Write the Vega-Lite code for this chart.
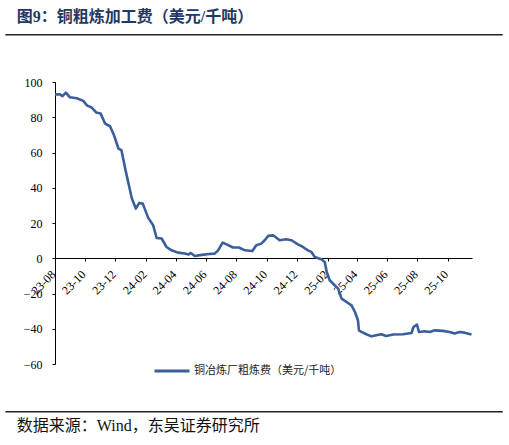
{
  "$schema": "https://vega.github.io/schema/vega-lite/v6.json",
  "width": 417,
  "height": 282,
  "autosize": {"type": "none"},
  "padding": {"left": 55, "top": 82, "right": 37, "bottom": 81},
  "background": "white",
  "config": {
    "view": {"stroke": null},
    "axis": {
      "title": null,
      "grid": false,
      "labelFont": "Liberation Serif",
      "labelFontSize": 12,
      "labelColor": "#000000",
      "domainColor": "#000000",
      "tickColor": "#000000",
      "tickSize": 3,
      "labelOverlap": false
    }
  },
  "resolve": {"scale": {"x": "independent", "y": "independent"}},
  "datasets": {
    "tc": [
      {"date": "2023-08-01", "tc": 92.9},
      {"date": "2023-08-11", "tc": 93.0},
      {"date": "2023-08-16", "tc": 92.0},
      {"date": "2023-08-23", "tc": 94.0},
      {"date": "2023-08-31", "tc": 91.3},
      {"date": "2023-09-14", "tc": 90.8},
      {"date": "2023-09-27", "tc": 89.3},
      {"date": "2023-10-05", "tc": 86.6},
      {"date": "2023-10-14", "tc": 85.5},
      {"date": "2023-10-23", "tc": 82.7},
      {"date": "2023-11-01", "tc": 82.1},
      {"date": "2023-11-10", "tc": 76.4},
      {"date": "2023-11-20", "tc": 74.9},
      {"date": "2023-11-28", "tc": 69.8},
      {"date": "2023-12-07", "tc": 62.2},
      {"date": "2023-12-13", "tc": 61.3},
      {"date": "2023-12-22", "tc": 49.0},
      {"date": "2024-01-03", "tc": 33.9},
      {"date": "2024-01-11", "tc": 28.2},
      {"date": "2024-01-18", "tc": 31.4},
      {"date": "2024-01-25", "tc": 31.0},
      {"date": "2024-02-05", "tc": 22.9},
      {"date": "2024-02-15", "tc": 18.7},
      {"date": "2024-02-22", "tc": 11.5},
      {"date": "2024-03-03", "tc": 11.2},
      {"date": "2024-03-13", "tc": 6.4},
      {"date": "2024-03-23", "tc": 4.5},
      {"date": "2024-04-05", "tc": 3.2},
      {"date": "2024-04-19", "tc": 2.7},
      {"date": "2024-04-26", "tc": 2.1},
      {"date": "2024-05-01", "tc": 3.0},
      {"date": "2024-05-09", "tc": 1.3},
      {"date": "2024-05-23", "tc": 1.9},
      {"date": "2024-06-07", "tc": 2.4},
      {"date": "2024-06-18", "tc": 2.6},
      {"date": "2024-06-25", "tc": 4.5},
      {"date": "2024-07-04", "tc": 8.9},
      {"date": "2024-07-12", "tc": 7.9},
      {"date": "2024-07-25", "tc": 6.1},
      {"date": "2024-08-06", "tc": 6.1},
      {"date": "2024-08-18", "tc": 4.5},
      {"date": "2024-09-02", "tc": 4.1},
      {"date": "2024-09-10", "tc": 7.4},
      {"date": "2024-09-20", "tc": 8.3},
      {"date": "2024-09-27", "tc": 10.2},
      {"date": "2024-10-04", "tc": 12.7},
      {"date": "2024-10-14", "tc": 13.0},
      {"date": "2024-10-27", "tc": 10.2},
      {"date": "2024-11-09", "tc": 10.8},
      {"date": "2024-11-20", "tc": 10.2},
      {"date": "2024-12-03", "tc": 7.9},
      {"date": "2024-12-13", "tc": 6.4},
      {"date": "2024-12-23", "tc": 4.5},
      {"date": "2024-12-30", "tc": 3.6},
      {"date": "2025-01-06", "tc": 0.7},
      {"date": "2025-01-19", "tc": -0.6},
      {"date": "2025-01-26", "tc": -2.1},
      {"date": "2025-01-30", "tc": -7.8},
      {"date": "2025-02-05", "tc": -12.5},
      {"date": "2025-02-15", "tc": -15.3},
      {"date": "2025-02-22", "tc": -17.2},
      {"date": "2025-03-01", "tc": -22.9},
      {"date": "2025-03-11", "tc": -24.8},
      {"date": "2025-03-21", "tc": -26.7},
      {"date": "2025-03-28", "tc": -30.5},
      {"date": "2025-04-03", "tc": -35.2},
      {"date": "2025-04-05", "tc": -40.9},
      {"date": "2025-04-10", "tc": -41.8},
      {"date": "2025-04-20", "tc": -43.1},
      {"date": "2025-04-30", "tc": -44.3},
      {"date": "2025-05-10", "tc": -43.7},
      {"date": "2025-05-20", "tc": -43.1},
      {"date": "2025-05-30", "tc": -44.1},
      {"date": "2025-06-13", "tc": -43.3},
      {"date": "2025-07-03", "tc": -43.1},
      {"date": "2025-07-20", "tc": -42.4},
      {"date": "2025-07-24", "tc": -39.0},
      {"date": "2025-07-31", "tc": -37.6},
      {"date": "2025-08-04", "tc": -41.8},
      {"date": "2025-08-16", "tc": -41.4},
      {"date": "2025-08-26", "tc": -41.8},
      {"date": "2025-09-05", "tc": -40.9},
      {"date": "2025-09-21", "tc": -41.2},
      {"date": "2025-10-05", "tc": -41.8},
      {"date": "2025-10-15", "tc": -42.7},
      {"date": "2025-10-25", "tc": -41.8},
      {"date": "2025-11-04", "tc": -42.2},
      {"date": "2025-11-18", "tc": -43.3}
    ],
    "one": [{}]
  },
  "layer": [
    {
      "data": {"name": "tc"},
      "mark": {"type": "line", "strokeWidth": 2.6, "strokeJoin": "round"},
      "encoding": {
        "x": {
          "field": "date",
          "type": "temporal",
          "scale": {
            "type": "utc",
            "domain": [
              {"year": 2023, "month": 8, "date": 1, "utc": true},
              {"year": 2025, "month": 11, "date": 19, "utc": true}
            ]
          },
          "axis": {
            "offset": -106,
            "labelExpr": "utcFormat(datum.value, '%y-%m')",
            "values": [
              {"year": 2023, "month": 8, "date": 1, "utc": true},
              {"year": 2023, "month": 10, "date": 1, "utc": true},
              {"year": 2023, "month": 12, "date": 1, "utc": true},
              {"year": 2024, "month": 2, "date": 1, "utc": true},
              {"year": 2024, "month": 4, "date": 1, "utc": true},
              {"year": 2024, "month": 6, "date": 1, "utc": true},
              {"year": 2024, "month": 8, "date": 1, "utc": true},
              {"year": 2024, "month": 10, "date": 1, "utc": true},
              {"year": 2024, "month": 12, "date": 1, "utc": true},
              {"year": 2025, "month": 2, "date": 1, "utc": true},
              {"year": 2025, "month": 4, "date": 1, "utc": true},
              {"year": 2025, "month": 6, "date": 1, "utc": true},
              {"year": 2025, "month": 8, "date": 1, "utc": true},
              {"year": 2025, "month": 10, "date": 1, "utc": true}
            ],
            "labelAngle": -45,
            "labelAlign": "right",
            "labelBaseline": "middle",
            "labelPadding": 11,
            "labelOffset": -2,
            "labelFlush": false,
            "labelBound": false
          }
        },
        "y": {
          "field": "tc",
          "type": "quantitative",
          "scale": {"domain": [-60, 100], "nice": false, "zero": false},
          "axis": {
            "values": [-60, -40, -20, 0, 20, 40, 60, 80, 100],
            "labelPadding": 10
          }
        },
        "color": {
          "datum": "铜冶炼厂粗炼费（美元/千吨）",
          "scale": {"range": ["#3A5F9A"]},
          "legend": {
            "title": null,
            "orient": "none",
            "legendX": 98,
            "legendY": 270,
            "padding": 0,
            "symbolType": "stroke",
            "symbolSize": 1225,
            "symbolStrokeWidth": 3,
            "labelFont": "Noto Sans CJK SC",
            "labelFontSize": 11,
            "labelColor": "#222222",
            "labelOffset": 3
          }
        }
      }
    },
    {
      "data": {"name": "one"},
      "mark": {"type": "rule", "color": "#222222", "strokeWidth": 1.5, "clip": false},
      "encoding": {
        "x": {
          "datum": {"year": 2023, "month": 4, "date": 23, "utc": true},
          "type": "temporal",
          "axis": null,
          "scale": {"type": "utc", "domain": [{"year": 2023, "month": 8, "date": 1, "utc": true}, {"year": 2025, "month": 11, "date": 19, "utc": true}]}
        },
        "x2": {"datum": {"year": 2026, "month": 1, "date": 20, "utc": true}},
        "y": {"datum": 126.8, "type": "quantitative", "axis": null, "scale": {"domain": [-60, 100], "nice": false, "zero": false}}
      }
    },
    {
      "data": {"name": "one"},
      "mark": {"type": "rule", "color": "#222222", "strokeWidth": 1.5, "clip": false},
      "encoding": {
        "x": {
          "datum": {"year": 2023, "month": 4, "date": 23, "utc": true},
          "type": "temporal",
          "axis": null,
          "scale": {"type": "utc", "domain": [{"year": 2023, "month": 8, "date": 1, "utc": true}, {"year": 2025, "month": 11, "date": 19, "utc": true}]}
        },
        "x2": {"datum": {"year": 2026, "month": 1, "date": 20, "utc": true}},
        "y": {"datum": -87.1, "type": "quantitative", "axis": null, "scale": {"domain": [-60, 100], "nice": false, "zero": false}}
      }
    },
    {
      "data": {"name": "one"},
      "mark": {
        "type": "text",
        "text": "图9：铜粗炼加工费（美元/千吨）",
        "align": "left",
        "baseline": "middle",
        "font": "Liberation Serif, Noto Sans CJK SC",
        "fontSize": 16,
        "fontWeight": "bold",
        "color": "#1F3864",
        "clip": false
      },
      "encoding": {
        "x": {
          "datum": {"year": 2023, "month": 5, "date": 16, "utc": true},
          "type": "temporal",
          "axis": null,
          "scale": {"type": "utc", "domain": [{"year": 2023, "month": 8, "date": 1, "utc": true}, {"year": 2025, "month": 11, "date": 19, "utc": true}]}
        },
        "y": {"datum": 136.7, "type": "quantitative", "axis": null, "scale": {"domain": [-60, 100], "nice": false, "zero": false}}
      }
    },
    {
      "data": {"name": "one"},
      "mark": {
        "type": "text",
        "text": "数据来源：Wind，东吴证券研究所",
        "align": "left",
        "baseline": "middle",
        "font": "Liberation Serif, Noto Sans CJK SC",
        "fontSize": 16,
        "color": "#111111",
        "clip": false
      },
      "encoding": {
        "x": {
          "datum": {"year": 2023, "month": 5, "date": 16, "utc": true},
          "type": "temporal",
          "axis": null,
          "scale": {"type": "utc", "domain": [{"year": 2023, "month": 8, "date": 1, "utc": true}, {"year": 2025, "month": 11, "date": 19, "utc": true}]}
        },
        "y": {"datum": -95.3, "type": "quantitative", "axis": null, "scale": {"domain": [-60, 100], "nice": false, "zero": false}}
      }
    }
  ]
}
